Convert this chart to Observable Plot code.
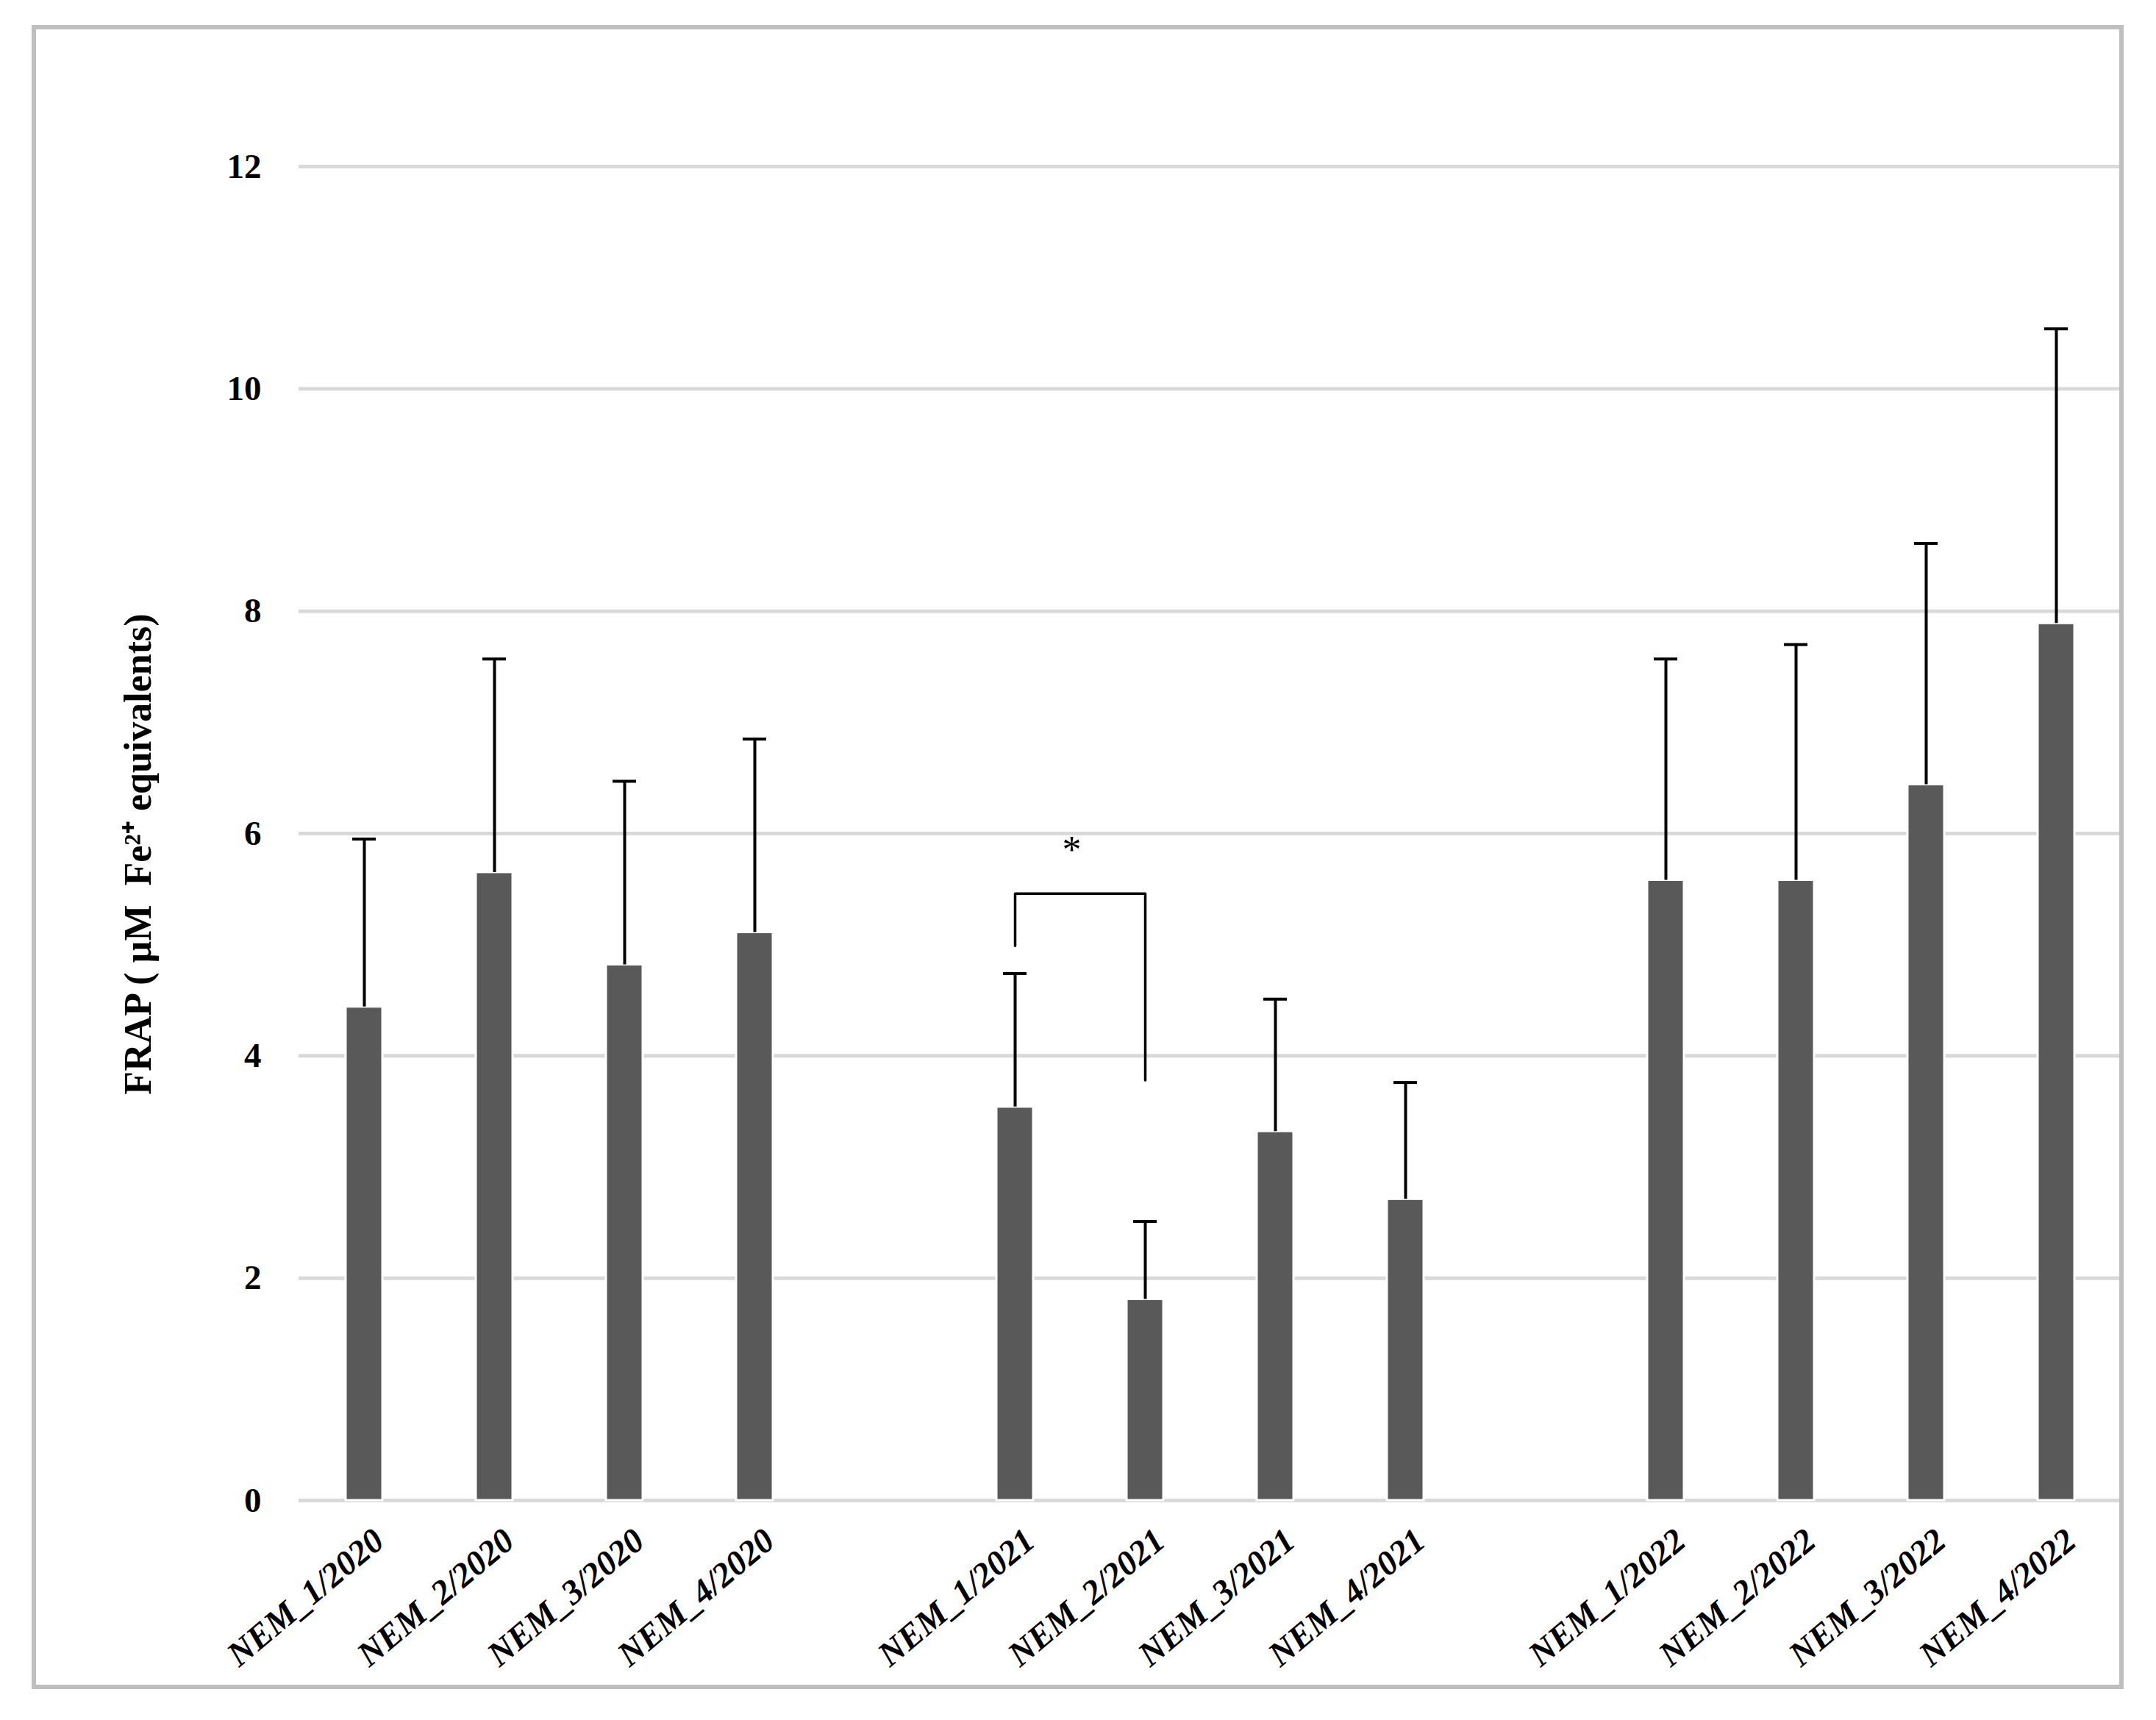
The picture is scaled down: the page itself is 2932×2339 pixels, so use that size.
<!DOCTYPE html>
<html>
<head>
<meta charset="utf-8">
<script src="https://cdn.jsdelivr.net/npm/d3@7"></script>
<script src="https://cdn.jsdelivr.net/npm/@observablehq/plot@0.6"></script>
<style>
  html, body { margin: 0; padding: 0; background: #fff; }
  #wrap { position: relative; width: 2932px; height: 2339px; }
  #frame { position: absolute; left: 43px; top: 34px; width: 2833px; height: 2251px; border: 6px solid #bfbfbf; pointer-events: none; }
</style>
</head>
<body>
<div id="wrap"><div id="frame"></div></div>
<script>
// ---- data ----
const categories = [
  "NEM_1/2020", "NEM_2/2020", "NEM_3/2020", "NEM_4/2020",
  "NEM_1/2021", "NEM_2/2021", "NEM_3/2021", "NEM_4/2021",
  "NEM_1/2022", "NEM_2/2022", "NEM_3/2022", "NEM_4/2022"
];
const means = [4.44, 5.65, 4.82, 5.11, 3.54, 1.81, 3.32, 2.71, 5.58, 5.58, 6.44, 7.89];
const sds   = [1.51, 1.92, 1.65, 1.74, 1.20, 0.70, 1.19, 1.05, 1.99, 2.12, 2.17, 2.65];
// category slots, with one empty slot between years
const xDomain = [
  "NEM_1/2020", "NEM_2/2020", "NEM_3/2020", "NEM_4/2020", " ",
  "NEM_1/2021", "NEM_2/2021", "NEM_3/2021", "NEM_4/2021", "  ",
  "NEM_1/2022", "NEM_2/2022", "NEM_3/2022", "NEM_4/2022"
];
const yTicks = [0, 2, 4, 6, 8, 10, 12];
const yTitle = "FRAP ( µM  Fe²⁺ equivalents)";
// significance bracket between NEM_1/2021 and NEM_2/2021
const bracketCats = ["NEM_1/2021", "NEM_1/2021", "NEM_2/2021", "NEM_2/2021"];
const bracketVals = [4.99, 5.46, 5.46, 3.78];
const starLabel = "*";
const starValue = 5.85;

// ---- tables ----
const rows = categories.map((c, i) => ({cat: c, mean: means[i], top: means[i] + sds[i]}));
const bracket = bracketCats.map((c, i) => ({cat: c, y: bracketVals[i]}));

const serif = "'Liberation Serif', 'Times New Roman', serif";

const chart = Plot.plot({
  width: 2932,
  height: 2339,
  marginLeft: 406,
  marginRight: 48,
  marginTop: 226,
  marginBottom: 299,
  style: {fontFamily: serif, background: "transparent", color: "black"},
  x: {domain: xDomain, paddingInner: 0.72, paddingOuter: 0.36, label: null},
  y: {domain: [0, 12], label: null},
  marks: [
    Plot.gridY(yTicks, {stroke: "#d9d9d9", strokeOpacity: 1, strokeWidth: 5}),
    Plot.axisY(yTicks, {tickSize: 0, tickPadding: 51, fontSize: 47, fontWeight: "bold", tickFormat: d => String(d), label: null}),
    Plot.axisX(categories, {tickSize: 0, tickRotate: -40, tickPadding: 48, dx: 20, fontSize: 47, fontStyle: "italic", fontWeight: "bold", label: null}),
    Plot.text([yTitle], {frameAnchor: "left", textAnchor: "middle", rotate: -90, dx: -218, dy: 28, fontSize: 52, fontWeight: "bold", fill: "black"}),
    Plot.barY(rows, {x: "cat", y: "mean", fill: "#595959", stroke: "#ffffff", strokeWidth: 3}),
    Plot.ruleX(rows, {x: "cat", y1: "mean", y2: "top", stroke: "black", strokeWidth: 4}),
    Plot.tickY(rows, {x: "cat", y: "top", stroke: "black", strokeWidth: 4, insetLeft: 9, insetRight: 9}),
    Plot.line(bracket, {x: "cat", y: "y", stroke: "black", strokeWidth: 3.5}),
    Plot.text([starLabel], {x: () => "NEM_1/2021", y: () => starValue, dx: 77, text: d => d, fontSize: 52, fill: "black"})
  ]
});

document.getElementById("wrap").prepend(chart);
</script>
</body>
</html>
